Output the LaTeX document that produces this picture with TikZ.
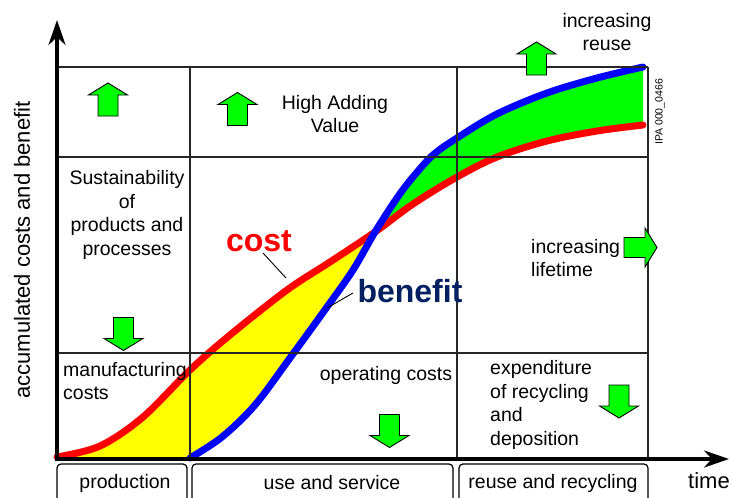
\documentclass[tikz,border=0pt]{standalone}
\usepackage{fontspec}
\setmainfont{Liberation Sans}
\usetikzlibrary{arrows.meta}
\definecolor{grn}{RGB}{0,255,0}
\definecolor{yel}{RGB}{255,255,0}
\definecolor{rd}{RGB}{255,0,0}
\definecolor{bl}{RGB}{0,0,255}
\definecolor{navy}{RGB}{0,32,96}
\newcommand\redcurve{plot[smooth,tension=0.55] coordinates {(57,457) (100,446) (143,417) (190,370) (230,335) (287,290) (330,262) (375,232) (413,204) (457,177) (497,157) (547,141) (597,131) (643,125)}}
\newcommand\bluecurve{plot[smooth,tension=0.55] coordinates {(190,458) (222,437) (255,405) (290,358) (327,307) (353,270) (375,232) (397,198) (413,177) (433,155) (457,138) (497,114) (547,93) (597,78) (643,67)}}
\tikzset{
  txt/.style={font=\fontsize{19.5}{23.5}\selectfont, inner sep=0pt, align=center},
  txtl/.style={font=\fontsize{19.5}{23.5}\selectfont, inner sep=0pt, align=left},
  gridline/.style={draw=black!85, line width=1.3pt},
  axis/.style={line width=4pt, -{Stealth[length=25pt,width=17pt]}},
  phase/.style={draw, line width=1.2pt, rounded corners=4pt},
  garrow/.pic={\draw[fill=grn, line width=0.9pt, line join=miter] (-10,16.5) -- (-10,-4.5) -- (-19.5,-4.5) -- (0,-16.5) -- (19.5,-4.5) -- (10,-4.5) -- (10,16.5) -- cycle;},
  curve/.style={line width=7pt, line cap=round, line join=round}
}
\begin{document}
\begin{tikzpicture}[x=1pt,y=-1pt]
\useasboundingbox (0,0) rectangle (732,498);
% fills
\begin{scope}
\clip \redcurve -- (643,460) -- (57,460) -- cycle;
\fill[yel] \bluecurve -- (643,0) -- (57,0) -- (57,460) -- (190,460) -- cycle;
\end{scope}
\begin{scope}
\clip \bluecurve -- (643,460) -- (190,460) -- cycle;
\fill[grn] \redcurve -- (643,0) -- (57,0) -- cycle;
\end{scope}
% curves
\draw[curve, rd] \redcurve;
\draw[curve, bl] \bluecurve;
% grid
\draw[gridline] (57,67) -- (648,67);
\draw[gridline] (57,157) -- (648,157);
\draw[gridline] (57,353) -- (648,353);
\draw[gridline] (190,67) -- (190,459);
\draw[gridline] (457,67) -- (457,459);
\draw[gridline] (648,67) -- (648,459);
% axes
\coordinate (origin) at (57,461);
\coordinate (ytip) at (57,20);
\coordinate (xorigin) at (55,459);
\coordinate (xtip) at (729,459);
\draw[axis] (origin) -- (ytip);
\draw[axis] (xorigin) -- (xtip);
% phase boxes
\draw[phase] (57,464) rectangle (187,506);
\draw[phase] (192,464) rectangle (453,506);
\draw[phase] (459,464) rectangle (648,506);
\node[txt] (prod) at (125,483) {production};
\node[txt] (use) at (332,483) {use and service};
\node[txt] (reuse) at (553,483) {reuse and recycling};
\node[txt, font=\fontsize{22}{26}\selectfont] (time) at (709,481) {time};
\node[txt, font=\fontsize{22}{26}\selectfont, rotate=90] (ylab) at (22,250) {accumulated costs and benefit};
\node[inner sep=0pt, font=\fontsize{10.5}{12}\selectfont, rotate=90] (ipa) at (660,112) {IPA 000\_0466};
% texts
\node[txt] (sust) at (127,215) {Sustainability\\of\\products and\\processes};
\node[txt] (hav) at (335,114) {High Adding\\Value};
\node[txt] (ireuse) at (607,32) {increasing\\reuse};
\node[txtl, anchor=west] (ilife) at (531,258) {increasing\\lifetime};
\node[txtl, anchor=west] (manu) at (63,381) {manufacturing\\costs};
\node[txt] (opc) at (386,375) {operating costs};
\node[txtl, anchor=west] (exp) at (490,405) {expenditure\\of recycling\\and\\deposition};
% green arrows
\pic at (108,99.5) {garrow};
\pic at (237.5,109) {garrow};
\pic at (536.5,58.5) {garrow};
\pic[rotate=180] at (123.5,334) {garrow};
\pic[rotate=180] at (389.5,431) {garrow};
\pic[rotate=180] at (619,401.5) {garrow};
\pic[rotate=-90] at (640.5,247.5) {garrow};
% curve labels
\node[inner sep=0pt, font=\fontsize{32}{36}\selectfont\bfseries, text=rd] (cost) at (259,241) {cost};
\node[inner sep=0pt, font=\fontsize{32}{36}\selectfont\bfseries, text=navy] (ben) at (410,291) {benefit};
\coordinate (costA) at (263,253);
\coordinate (costB) at (286,278);
\coordinate (benA) at (353,293);
\coordinate (benB) at (327,308);
\draw[line width=0.9pt] (costA) -- (costB);
\draw[line width=0.9pt] (benA) -- (benB);
\end{tikzpicture}
\end{document}
